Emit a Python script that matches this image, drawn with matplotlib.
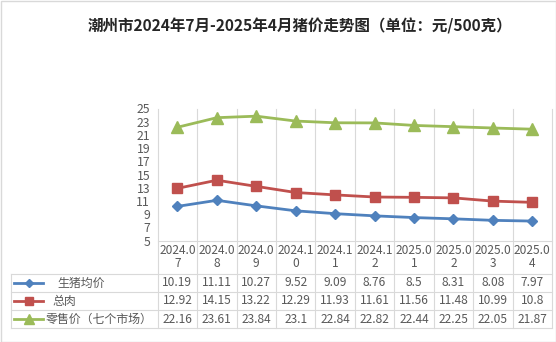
import matplotlib
matplotlib.use("Agg")
import matplotlib.pyplot as plt
from matplotlib.transforms import blended_transform_factory
from matplotlib.patches import Rectangle

plt.rcParams['font.family'] = ['Noto Sans CJK SC', 'DejaVu Sans']

months = ["2024.07", "2024.08", "2024.09", "2024.10", "2024.11",
          "2024.12", "2025.01", "2025.02", "2025.03", "2025.04"]
live_pig = [10.19, 11.11, 10.27, 9.52, 9.09, 8.76, 8.5, 8.31, 8.08, 7.97]
pork = [12.92, 14.15, 13.22, 12.29, 11.93, 11.61, 11.56, 11.48, 10.99, 10.8]
retail = [22.16, 23.61, 23.84, 23.1, 22.84, 22.82, 22.44, 22.25, 22.05, 21.87]
series_names = ["生猪均价", "总肉", "零售价（七个市场）"]

W, H = 556, 342
fig = plt.figure(figsize=(W / 100, H / 100), dpi=100)

def fy(py):
    # pixel y (from top) -> figure fraction
    return 1 - py / H

def fx(px):
    return px / W

# plot area in pixels
left, right, top, bottom = 157.7, 552.0, 108.5, 240.7
ax = fig.add_axes([fx(left), fy(bottom), fx(right) - fx(left), fy(top) - fy(bottom)])

grid_c = "#D9D9D9"
text_c = "#595959"
colors = ["#4F81BD", "#C0504D", "#9BBB59"]
markers = ["D", "s", "^"]
msizes = [5.5, 6.5, 8.5]
series = [live_pig, pork, retail]

x = list(range(len(months)))
for vals, c, m, ms in zip(series, colors, markers, msizes):
    ax.plot(x, vals, color=c, lw=2.0, marker=m, ms=ms, mec=c, mfc=c, zorder=3)

ax.set_xlim(-0.5, len(months) - 0.5)
ax.set_ylim(5, 25)
ax.set_yticks(range(5, 26, 2))
ax.tick_params(axis="y", length=0, pad=5.5, labelsize=8.8, labelcolor=text_c)
ax.set_xticks([])
for s in ["top", "right", "left"]:
    ax.spines[s].set_visible(False)
ax.spines["bottom"].set_color(grid_c)
ax.spines["bottom"].set_linewidth(0.8)

# table rows (pixel y)
row_lines = [273.7, 292.3, 310.3, 328.3]
row_centers = [283.0, 301.0, 319.2]
table_left = 10.7

trans = blended_transform_factory(ax.transData, fig.transFigure)
for i in range(len(months) + 1):
    ax.plot([i - 0.5, i - 0.5], [fy(top), fy(row_lines[-1])], color=grid_c, lw=0.8,
            transform=trans, clip_on=False, zorder=1)

for py in row_lines:
    fig.add_artist(plt.Line2D([fx(table_left), fx(right)], [fy(py), fy(py)],
                              color=grid_c, lw=0.8))
fig.add_artist(plt.Line2D([fx(table_left), fx(table_left)], [fy(row_lines[0]), fy(row_lines[-1])],
                          color=grid_c, lw=0.8))

# header labels
for i, m in enumerate(months):
    ax.text(i, fy(257.0), m[:6] + "\n" + m[6:], transform=trans, ha="center", va="center",
            fontsize=8.6, color=text_c, linespacing=1.05)

# data cells
for r, vals in enumerate(series):
    for i, v in enumerate(vals):
        ax.text(i, fy(row_centers[r]), f"{v:g}", transform=trans, ha="center", va="center",
                fontsize=8.6, color=text_c)

# legend keys and names
name_x = [57.0, 52.0, 45.5]
for r in range(3):
    yc = fy(row_centers[r])
    fig.add_artist(plt.Line2D([fx(14), fx(43)], [yc, yc], color=colors[r], lw=2.0))
    fig.add_artist(plt.Line2D([fx(28.5)], [yc], color=colors[r], marker=markers[r],
                              ms=msizes[r] - 1, mfc=colors[r], mec=colors[r]))
    fig.text(fx(name_x[r]), yc, series_names[r], ha="left", va="center",
             fontsize=8.6, color=text_c)

fig.text(fx(300), fy(26.5), "潮州市2024年7月-2025年4月猪价走势图（单位：元/500克）",
         ha="center", va="center", fontsize=11.2, fontweight="bold", color="#262626")

fig.add_artist(Rectangle((0.5 / W, 0.5 / H), 1 - 1 / W, 1 - 1 / H, transform=fig.transFigure,
                         fill=False, ec=grid_c, lw=1))

fig.savefig("out.png", dpi=100)
